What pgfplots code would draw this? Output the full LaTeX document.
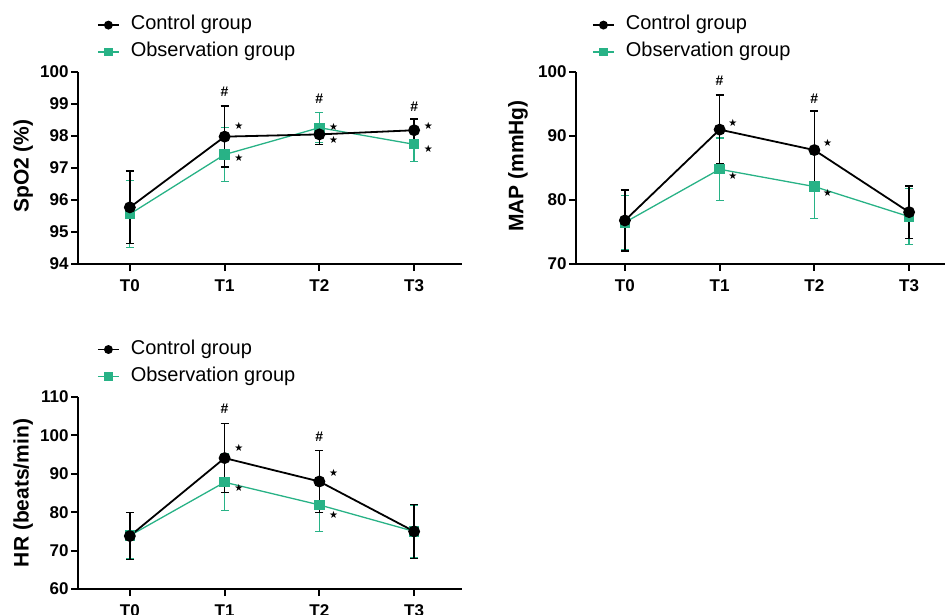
\documentclass[border=0pt]{standalone}
\usepackage{pgfplots}
\pgfplotsset{compat=1.18}
\usepackage{fontspec}
\setmainfont{Liberation Sans}
\newfontfamily\dejavu{DejaVu Sans}
\definecolor{obsgreen}{RGB}{40,178,134}

\pgfplotsset{
  panel/.style={
    scale only axis,
    axis lines=left,
    axis line style={-, line width=2.4pt, black},
    clip=false,
    xtick={0,1,2,3},
    xticklabels={T0,T1,T2,T3},
    tick align=outside,
    major tick length=7pt,
    tick style={black, line width=2pt},
    /pgf/number format/assume math mode=true,
    tick label style={font=\bfseries\fontsize{17}{17}\selectfont},
    xticklabel style={yshift=-5pt},
    yticklabel style={xshift=1pt},
    ylabel style={font=\bfseries\fontsize{21}{21}\selectfont, anchor=center},
    legend style={draw=none, fill=none, anchor=west, inner sep=0pt,
      font=\fontsize{20}{20}\selectfont,
      nodes={inner sep=0pt, text height=14pt, text depth=5pt},
      row sep=8pt, column sep=11pt},
    legend cell align=left,
    legend image code/.code={
      \draw[mark repeat=2, mark phase=2, #1, mark size=3.5pt]
        plot coordinates {(0pt,0pt) (10.5pt,0pt) (21pt,0pt)};},
  },
  ctrl/.style={black, line width=1.8pt, mark=*, mark size=5pt,
    mark options={solid, fill=black},
    error bars/.cd, y dir=both, y explicit,
    error bar style={line width=1.5pt, black},
    error mark options={rotate=90, mark size=4pt, line width=1.5pt, black}},
  obs/.style={obsgreen, line width=1.3pt, mark=square*, mark size=4.5pt,
    mark options={solid, fill=obsgreen},
    error bars/.cd, y dir=both, y explicit,
    error bar style={line width=1.3pt, obsgreen},
    error mark options={rotate=90, mark size=4pt, line width=1.3pt, obsgreen}},
}
\newcommand{\hs}{\bfseries\fontsize{14}{14}\selectfont\#}
\newcommand{\st}{{\dejavu\fontsize{10}{10}\selectfont ★}}

\begin{document}
\begin{tikzpicture}
\useasboundingbox (0,0) rectangle (945pt,614pt);

% ---------------- SpO2 ----------------
\begin{axis}[panel,
  at={(78pt,350pt)}, anchor=south west,
  width=384pt, height=192pt,
  xmin=-0.547, xmax=3.505, ymin=94, ymax=100,
  ytick={94,95,96,97,98,99,100},
  ylabel={SpO2 (\%)},
  ylabel style={at={(axis description cs:-0.143,0.51)}},
  legend style={at={(axis description cs:0.049,1.174)}},
  legend entries={Control group, Observation group},
  reverse legend=false]
\addlegendimage{ctrl}
\addlegendimage{obs}
\addplot[obs] coordinates {(0,95.56) +- (0,1.05) (1,97.42) +- (0,0.85) (2,98.26) +- (0,0.47) (3,97.74) +- (0,0.54)};
\addplot[ctrl] coordinates {(0,95.77) +- (0,1.13) (1,97.98) +- (0,0.95) (2,98.05) +- (0,0.31) (3,98.18) +- (0,0.35)};
\node at (axis cs:1,99.38) {\hs};
\node at (axis cs:2,99.15) {\hs};
\node at (axis cs:3,98.90) {\hs};
\node at (axis cs:1.15,98.30) {\st};
\node at (axis cs:1.15,97.32) {\st};
\node at (axis cs:2.15,98.29) {\st};
\node at (axis cs:2.15,97.87) {\st};
\node at (axis cs:3.15,98.31) {\st};
\node at (axis cs:3.15,97.60) {\st};
\end{axis}

% ---------------- MAP ----------------
\begin{axis}[panel,
  at={(576pt,350pt)}, anchor=south west,
  width=369pt, height=192pt,
  xmin=-0.516, xmax=3.379, ymin=70, ymax=100,
  ytick={70,80,90,100},
  ylabel={MAP (mmHg)},
  ylabel style={at={(axis description cs:-0.157,0.51)}},
  legend style={at={(axis description cs:0.043,1.174)}},
  legend entries={Control group, Observation group}]
\addlegendimage{ctrl}
\addlegendimage{obs}
\addplot[obs] coordinates {(0,76.5) +- (0,4.2) (1,84.8) +- (0,4.9) (2,82.1) +- (0,5.0) (3,77.4) +- (0,4.4)};
\addplot[ctrl] coordinates {(0,76.8) +- (0,4.8) (1,91.0) +- (0,5.4) (2,87.8) +- (0,6.1) (3,78.1) +- (0,4.1)};
\node at (axis cs:1,98.7) {\hs};
\node at (axis cs:2,95.8) {\hs};
\node at (axis cs:1.14,92.0) {\st};
\node at (axis cs:1.14,83.8) {\st};
\node at (axis cs:2.14,88.85) {\st};
\node at (axis cs:2.14,81.1) {\st};
\end{axis}

% ---------------- HR ----------------
\begin{axis}[panel,
  at={(78pt,25pt)}, anchor=south west,
  width=384pt, height=192pt,
  xmin=-0.547, xmax=3.505, ymin=60, ymax=110,
  ytick={60,70,80,90,100,110},
  ylabel={HR (beats/min)},
  ylabel style={at={(axis description cs:-0.143,0.5)}},
  legend style={at={(axis description cs:0.049,1.177)}},
  legend entries={Control group, Observation group}]
\addlegendimage{ctrl}
\addlegendimage{obs}
\addplot[obs] coordinates {(0,73.9) +- (0,6.0) (1,87.8) +- (0,7.4) (2,81.9) +- (0,6.9) (3,75.0) +- (0,6.9)};
\addplot[ctrl] coordinates {(0,73.8) +- (0,6.1) (1,94.1) +- (0,9.0) (2,88.0) +- (0,8.1) (3,75.0) +- (0,7.0)};
\node at (axis cs:1,106.9) {\hs};
\node at (axis cs:2,99.7) {\hs};
\node at (axis cs:1.15,96.7) {\st};
\node at (axis cs:1.15,86.3) {\st};
\node at (axis cs:2.15,90.3) {\st};
\node at (axis cs:2.15,79.3) {\st};
\end{axis}
\end{tikzpicture}
\end{document}
